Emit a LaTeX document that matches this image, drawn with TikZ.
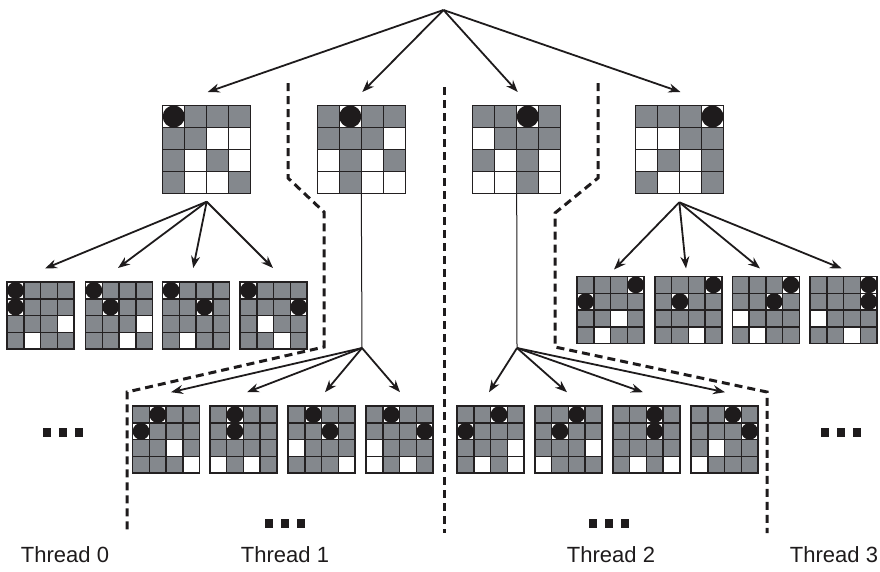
\documentclass[tikz,border=0pt]{standalone}
\usepackage{fontspec}
\setmainfont{Liberation Sans}
\usetikzlibrary{calc,arrows.meta}

\definecolor{cellgray}{RGB}{132,136,141}
\definecolor{gridline}{RGB}{35,32,33}
\definecolor{ink}{RGB}{30,27,28}

\tikzset{
  boardframe/.style={draw=none, inner sep=0pt, outer sep=0pt},
  gridstroke/.style={draw=gridline, line width=1.5pt},
  queen/.style={fill=ink},
  arr/.style={draw=ink, line width=1.8pt, -{Stealth[length=12pt,width=9pt]}},
  trunk/.style={draw=ink, line width=1pt},
  sep/.style={draw=ink, line width=3pt, dash pattern=on 8pt off 5pt},
  lbl/.style={font=\fontsize{22}{25}\selectfont, text=ink, inner sep=0pt},
  more/.style={inner sep=0pt, text=ink}
}

% 4x4 board: name, centre x, centre y, cell size, 16 cells row by row
% (G = grey square, W = white square, Q = white square holding a queen)
\newcommand\qboard[5]{%
  \node[boardframe, minimum size=4*#4] (#1) at (#2,#3) {};
  \foreach \c [count=\k from 0] in {#5} {
    \pgfmathtruncatemacro\rr{\k/4}
    \pgfmathtruncatemacro\cc{\k-4*\rr}
    \if\c G\def\cellfill{cellgray}\else\def\cellfill{white}\fi
    \fill[\cellfill] ($(#1.north west)+(\cc*#4,\rr*#4)$) rectangle ++(#4,#4);
  }
  \foreach \c [count=\k from 0] in {#5} {
    \pgfmathtruncatemacro\rr{\k/4}
    \pgfmathtruncatemacro\cc{\k-4*\rr}
    \draw[gridstroke] ($(#1.north west)+(\cc*#4,\rr*#4)$) rectangle ++(#4,#4);
  }
  \foreach \c [count=\k from 0] in {#5} {
    \pgfmathtruncatemacro\rr{\k/4}
    \pgfmathtruncatemacro\cc{\k-4*\rr}
    \if\c Q\fill[queen] ($(#1.north west)+(\cc*#4+#4/2,\rr*#4+#4/2)$) circle ({#4/2});\fi
  }
}

\newcommand\dotglyphs{\rule{8pt}{9pt}\hspace{8pt}\rule{8pt}{9pt}\hspace{8pt}\rule{8pt}{9pt}}

\begin{document}
\begin{tikzpicture}[x=1pt,y=-1pt]
\useasboundingbox (0,0) rectangle (880,571);

% root of the search tree
\coordinate (root) at (443.5,10);

% first level: queen in row 1
\qboard{b1}{206.7}{149.5}{22}{Q,G,G,G,G,G,W,W,G,W,G,W,G,W,W,G}
\qboard{b2}{361.3}{149.5}{22}{G,Q,G,G,G,G,G,W,W,G,W,G,W,G,W,W}
\qboard{b3}{516.7}{149.5}{22}{G,G,Q,G,W,G,G,G,G,W,G,W,W,W,G,W}
\qboard{b4}{679.5}{149.5}{22}{G,G,G,Q,W,W,G,G,W,G,W,G,G,W,W,G}

% second level under the outer boards
\qboard{s1}{40.7}{315.5}{16.75}{Q,G,G,G,Q,G,G,G,G,G,G,W,G,W,G,G}
\qboard{s2}{119}{315.5}{16.75}{Q,G,G,G,G,Q,G,G,G,G,G,W,G,G,W,G}
\qboard{s3}{196.2}{315.5}{16.75}{Q,G,G,G,G,G,Q,G,G,G,G,G,G,W,G,G}
\qboard{s4}{273.7}{315.5}{16.75}{Q,G,G,G,G,G,G,Q,G,W,G,G,G,G,W,G}
\qboard{s5}{610.7}{310}{16.75}{G,G,G,Q,Q,G,G,G,G,G,W,G,G,W,G,G}
\qboard{s6}{688.3}{310}{16.75}{G,G,G,Q,G,Q,G,G,G,G,G,G,G,G,W,G}
\qboard{s7}{765.8}{310}{16.75}{G,G,G,Q,G,G,Q,G,W,G,G,G,G,W,G,G}
\qboard{s8}{843.7}{310}{16.75}{G,G,G,Q,G,G,G,Q,W,G,G,G,G,G,W,G}

% second level under the inner boards
\qboard{t1}{166.2}{439.7}{16.75}{G,Q,G,G,Q,G,G,G,G,G,W,G,G,G,G,W}
\qboard{t2}{243.3}{439.7}{16.75}{G,Q,G,G,G,Q,G,G,G,G,G,G,W,G,W,G}
\qboard{t3}{321.7}{439.7}{16.75}{G,Q,G,G,G,G,Q,G,W,G,G,G,G,G,G,W}
\qboard{t4}{399.7}{439.7}{16.75}{G,Q,G,G,G,G,G,Q,W,G,G,G,W,G,W,G}
\qboard{t5}{490.7}{439.7}{16.75}{G,G,Q,G,Q,G,G,G,G,G,G,W,G,W,G,W}
\qboard{t6}{568.3}{439.7}{16.75}{G,G,Q,G,G,Q,G,G,G,G,G,W,W,G,G,G}
\qboard{t7}{646.3}{439.7}{16.75}{G,G,Q,G,G,G,Q,G,G,G,G,G,G,W,G,W}
\qboard{t8}{724.5}{439.7}{16.75}{G,G,Q,G,G,G,G,Q,G,W,G,G,W,G,G,G}

% branching points below the first-level boards
\coordinate (br1) at (206.7,201.7);
\coordinate (br2) at (362,348);
\coordinate (br3) at (517,348);
\coordinate (br4) at (679.3,202.3);

% root to first level
\draw[arr] (root) -- ([shift={(1,-13.5)}]b1.north);
\draw[arr] (root) -- ([shift={(1,-13.5)}]b2.north);
\draw[arr] (root) -- ([shift={(1,-13.5)}]b3.north);
\draw[arr] (root) -- ([shift={(1,-13.5)}]b4.north);

% board 1 children
\draw[arr] (br1) -- ([shift={(4.3,-13.5)}]s1.north);
\draw[arr] (br1) -- ([shift={(-1,-14)}]s2.north);
\draw[arr] (br1) -- ([shift={(-3,-14)}]s3.north);
\draw[arr] (br1) -- ([shift={(-0.7,-14)}]s4.north);

% board 4 children
\draw[arr] (br4) -- ([shift={(3.3,-7)}]s5.north);
\draw[arr] (br4) -- ([shift={(-2.3,-8)}]s6.north);
\draw[arr] (br4) -- ([shift={(-5.8,-8)}]s7.north);
\draw[arr] (br4) -- ([shift={(-2,-8)}]s8.north);

% board 2 and board 3 children
\draw[trunk] (b2.south) -- (br2);
\draw[trunk] (b3.south) -- (br3);
\draw[arr] (br2) -- ([shift={(4.8,-14)}]t1.north);
\draw[arr] (br2) -- ([shift={(3.7,-14)}]t2.north);
\draw[arr] (br2) -- ([shift={(3.3,-14)}]t3.north);
\draw[arr] (br2) -- ([shift={(0.3,-14)}]t4.north);
\draw[arr] (br3) -- ([shift={(-1.7,-14)}]t5.north);
\draw[arr] (br3) -- ([shift={(-1.3,-14)}]t6.north);
\draw[arr] (br3) -- ([shift={(-3.3,-14)}]t7.north);
\draw[arr] (br3) -- ([shift={(0.5,-14)}]t8.north);

% thread boundaries
\draw[sep] (288,83) -- (288,178) -- (324,212) -- (324,347) -- (127,392) -- (127,533);
\draw[sep] (444,87) -- (444,533);
\draw[sep] (598,83) -- (598,178) -- (555,213) -- (555,347) -- (767,392) -- (767,533);

% elided parts of the tree
\node[more] (moreL) at (63,432) {\dotglyphs};
\node[more] (moreR) at (841,432) {\dotglyphs};
\node[more] (more1) at (285,523) {\dotglyphs};
\node[more] (more2) at (609,523) {\dotglyphs};

% thread labels
\node[lbl] (th0) at (65,555) {Thread 0};
\node[lbl] (th1) at (285,555) {Thread 1};
\node[lbl] (th2) at (611,555) {Thread 2};
\node[lbl] (th3) at (834,555) {Thread 3};
\end{tikzpicture}
\end{document}
